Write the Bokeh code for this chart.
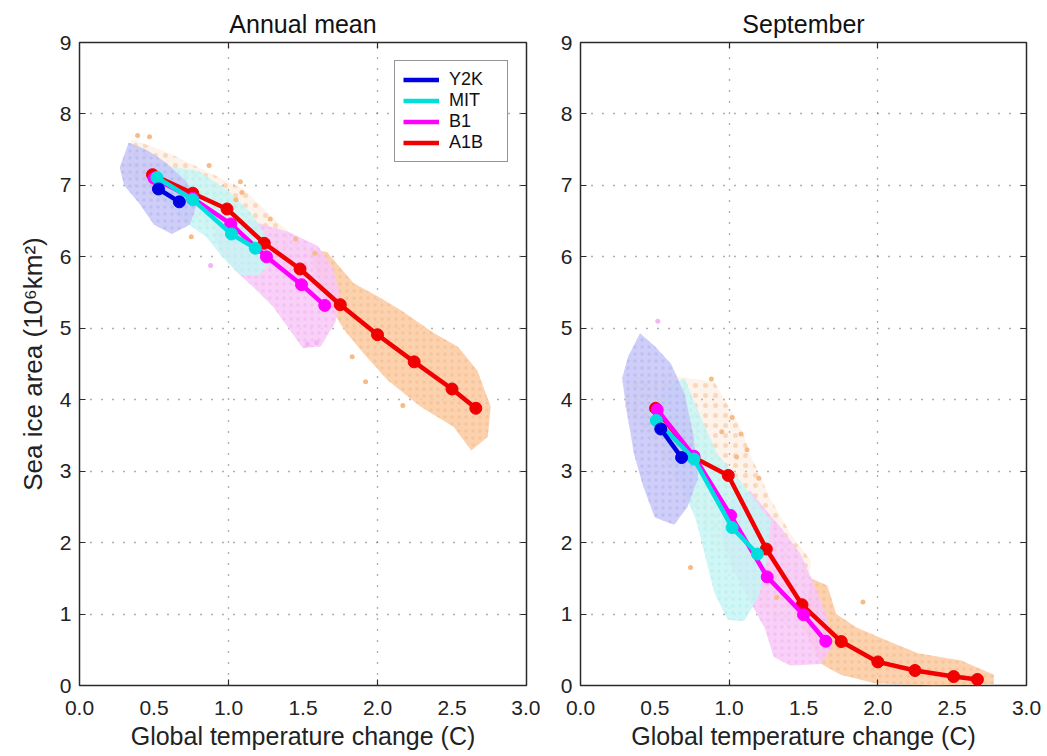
from bokeh.plotting import figure
from bokeh.models import (LinearAxis, FixedTicker, PrintfTickFormatter, Legend,
                          LegendItem, Range1d, Grid)
from bokeh.layouts import row
from bokeh.embed import file_html
from bokeh.resources import INLINE

FONT = "Liberation Sans"
INK = "#2b2b2b"

# ---------------- data ----------------
X_TICKS = [0.0, 0.5, 1.0, 1.5, 2.0, 2.5, 3.0]
Y_TICKS = [0, 1, 2, 3, 4, 5, 6, 7, 8, 9]
X_GRID = [1.0, 2.0]
Y_GRID = [1, 2, 3, 4, 5, 6, 7, 8]

SCENARIOS = ["Y2K", "MIT", "B1", "A1B"]
LINE_COLORS = {"Y2K": "#0000e0", "MIT": "#00dede", "B1": "#ff00ff", "A1B": "#f00000"}
CLOUD_COLORS = {"Y2K": "#c6c6f7", "MIT": "#c8f5f5", "B1": "#f7c8f7", "A1B": "#fac9a0"}
DOT_COLORS = {"Y2K": "#b4b4f3", "MIT": "#b2f0f0", "B1": "#f3b5f3", "A1B": "#f7bb88"}

# Annual mean: ensemble-mean curves (temperature change, sea-ice area)
ANN_Y2K_T = [0.53, 0.67]
ANN_Y2K_A = [6.95, 6.77]
ANN_MIT_T = [0.52, 0.76, 1.02, 1.18]
ANN_MIT_A = [7.11, 6.80, 6.32, 6.12]
ANN_B1_T = [0.50, 0.76, 1.015, 1.255, 1.49, 1.646]
ANN_B1_A = [7.10, 6.82, 6.46, 6.00, 5.61, 5.32]
ANN_A1B_T = [0.49, 0.76, 0.99, 1.24, 1.48, 1.75, 2.00, 2.246, 2.50, 2.66]
ANN_A1B_A = [7.15, 6.89, 6.67, 6.19, 5.83, 5.33, 4.91, 4.53, 4.15, 3.88]

# September
SEP_Y2K_T = [0.54, 0.68]
SEP_Y2K_A = [3.59, 3.19]
SEP_MIT_T = [0.51, 0.763, 1.02, 1.19]
SEP_MIT_A = [3.71, 3.17, 2.21, 1.84]
SEP_B1_T = [0.516, 0.763, 1.01, 1.256, 1.50, 1.65]
SEP_B1_A = [3.86, 3.21, 2.38, 1.52, 0.99, 0.62]
SEP_A1B_T = [0.505, 0.763, 0.994, 1.25, 1.49, 1.754, 2.00, 2.25, 2.51, 2.67]
SEP_A1B_A = [3.88, 3.19, 2.94, 1.91, 1.13, 0.615, 0.33, 0.21, 0.125, 0.085]

# Ensemble clouds: outline of each dense scatter cloud (temperature, area)
ANN_Y2K_CLOUD_T = [0.33, 0.45, 0.58, 0.72, 0.79, 0.74, 0.62, 0.50, 0.40, 0.30, 0.27]
ANN_Y2K_CLOUD_A = [7.60, 7.50, 7.32, 7.05, 6.75, 6.45, 6.32, 6.45, 6.75, 7.00, 7.25]
ANN_MIT_CLOUD_T = [0.50, 0.80, 1.00, 1.15, 1.27, 1.28, 1.20, 1.08, 0.95, 0.85, 0.70, 0.55, 0.45]
ANN_MIT_CLOUD_A = [7.30, 7.20, 6.92, 6.62, 6.22, 5.90, 5.74, 5.74, 6.02, 6.28, 6.50, 6.80, 7.00]
ANN_B1_CLOUD_T = [0.95, 1.15, 1.40, 1.60, 1.70, 1.75, 1.72, 1.62, 1.50, 1.42, 1.30, 1.18, 1.05, 0.95, 0.90]
ANN_B1_CLOUD_A = [6.55, 6.50, 6.35, 6.15, 5.85, 5.45, 5.10, 4.75, 4.72, 4.95, 5.30, 5.55, 5.80, 6.05, 6.30]
ANN_A1B_CLOUD_T = [1.55, 1.66, 1.84, 2.00, 2.16, 2.38, 2.54, 2.67, 2.76, 2.74, 2.63, 2.51, 2.29, 2.07,
                   1.91, 1.78, 1.68, 1.60]
ANN_A1B_CLOUD_A = [6.10, 6.07, 5.63, 5.45, 5.25, 4.93, 4.74, 4.41, 3.90, 3.48, 3.29, 3.62, 3.90, 4.27,
                   4.64, 4.97, 5.30, 5.70]
# sparse early part of the A1B ensemble (mostly hidden behind the other clouds)
ANN_A1B_SPARSE_T = [0.35, 0.60, 0.90, 1.10, 1.35, 1.55, 1.60, 1.30, 1.05, 0.80, 0.55, 0.30]
ANN_A1B_SPARSE_A = [7.65, 7.45, 7.15, 6.95, 6.45, 6.10, 5.70, 5.80, 6.20, 6.50, 6.80, 7.15]

SEP_Y2K_CLOUD_T = [0.40, 0.50, 0.61, 0.70, 0.76, 0.79, 0.72, 0.63, 0.50, 0.42, 0.36, 0.31, 0.28, 0.32]
SEP_Y2K_CLOUD_A = [4.93, 4.75, 4.50, 4.08, 3.50, 2.90, 2.50, 2.25, 2.35, 2.80, 3.24, 3.85, 4.30, 4.60]
SEP_MIT_CLOUD_T = [0.55, 0.70, 0.80, 0.92, 1.11, 1.28, 1.26, 1.20, 1.10, 0.99, 0.90, 0.84, 0.78, 0.70, 0.60, 0.50]
SEP_MIT_CLOUD_A = [4.15, 4.30, 3.80, 3.24, 2.77, 2.31, 1.80, 1.25, 0.90, 0.92, 1.30, 1.80, 2.30, 2.70, 3.20, 3.70]
SEP_B1_CLOUD_T = [0.95, 1.14, 1.35, 1.48, 1.57, 1.66, 1.69, 1.62, 1.41, 1.30, 1.24, 1.12, 1.02, 0.95]
SEP_B1_CLOUD_A = [2.50, 2.73, 2.20, 1.84, 1.42, 0.96, 0.54, 0.30, 0.28, 0.40, 0.80, 1.25, 1.65, 2.10]
SEP_A1B_CLOUD_T = [1.55, 1.66, 1.72, 1.86, 2.06, 2.27, 2.56, 2.78, 2.78, 2.38, 1.98, 1.75, 1.62, 1.50]
SEP_A1B_CLOUD_A = [1.50, 1.40, 1.00, 0.81, 0.63, 0.45, 0.35, 0.15, 0.02, 0.00, 0.03, 0.15, 0.30, 0.80]
SEP_A1B_SPARSE_T = [0.32, 0.55, 0.90, 1.08, 1.15, 1.28, 1.42, 1.55, 1.50, 1.30, 1.10, 0.90, 0.75, 0.60, 0.45, 0.30]
SEP_A1B_SPARSE_A = [4.30, 4.35, 4.25, 3.60, 3.20, 2.60, 2.10, 1.75, 0.80, 0.90, 1.40, 2.00, 2.50, 3.00, 3.50, 3.90]

# a few isolated ensemble members outside the dense clouds
ANN_A1B_OUT_T = [0.39, 0.47, 0.87, 1.08, 1.09, 1.05, 0.75, 1.28, 1.92, 2.17, 1.83, 1.45, 1.58]
ANN_A1B_OUT_A = [7.70, 7.68, 7.28, 7.05, 6.90, 6.80, 6.28, 6.53, 4.25, 3.92, 4.60, 6.25, 6.05]
ANN_B1_OUT_T = [0.88, 1.53, 1.59]
ANN_B1_OUT_A = [5.88, 4.78, 4.80]
SEP_A1B_OUT_T = [0.74, 1.08, 1.32, 1.90, 0.88, 1.12, 1.02, 0.95, 1.05, 1.20]
SEP_A1B_OUT_A = [1.65, 3.52, 1.23, 1.17, 4.29, 3.30, 3.75, 3.55, 3.20, 2.90]
SEP_B1_OUT_T = [0.52]
SEP_B1_OUT_A = [5.10]

ANNUAL = {
    "Y2K": (ANN_Y2K_T, ANN_Y2K_A, ANN_Y2K_CLOUD_T, ANN_Y2K_CLOUD_A),
    "MIT": (ANN_MIT_T, ANN_MIT_A, ANN_MIT_CLOUD_T, ANN_MIT_CLOUD_A),
    "B1": (ANN_B1_T, ANN_B1_A, ANN_B1_CLOUD_T, ANN_B1_CLOUD_A),
    "A1B": (ANN_A1B_T, ANN_A1B_A, ANN_A1B_CLOUD_T, ANN_A1B_CLOUD_A),
}
SEPTEMBER = {
    "Y2K": (SEP_Y2K_T, SEP_Y2K_A, SEP_Y2K_CLOUD_T, SEP_Y2K_CLOUD_A),
    "MIT": (SEP_MIT_T, SEP_MIT_A, SEP_MIT_CLOUD_T, SEP_MIT_CLOUD_A),
    "B1": (SEP_B1_T, SEP_B1_A, SEP_B1_CLOUD_T, SEP_B1_CLOUD_A),
    "A1B": (SEP_A1B_T, SEP_A1B_A, SEP_A1B_CLOUD_T, SEP_A1B_CLOUD_A),
}
ANN_SPARSE = (ANN_A1B_SPARSE_T, ANN_A1B_SPARSE_A)
SEP_SPARSE = (SEP_A1B_SPARSE_T, SEP_A1B_SPARSE_A)
ANN_OUT = [("A1B", ANN_A1B_OUT_T, ANN_A1B_OUT_A), ("B1", ANN_B1_OUT_T, ANN_B1_OUT_A)]
SEP_OUT = [("A1B", SEP_A1B_OUT_T, SEP_A1B_OUT_A), ("B1", SEP_B1_OUT_T, SEP_B1_OUT_A)]


def tick_only_axis(ticks):
    # tick marks only (minor ticks), no labels
    return LinearAxis(ticker=FixedTicker(ticks=[], minor_ticks=ticks),
                      minor_tick_in=6, minor_tick_out=0, minor_tick_line_color=INK,
                      minor_tick_line_width=1.2, major_tick_line_color=None,
                      axis_line_color=None, major_label_standoff=0)


def make_panel(title, data, sparse, outliers, frame_w, border_l, border_r, ylabel, with_legend):
    p = figure(frame_width=frame_w, frame_height=643, x_range=Range1d(0, 3), y_range=Range1d(0, 9),
               output_backend="svg", toolbar_location=None, x_axis_location=None,
               y_axis_location=None, min_border_left=border_l, min_border_right=border_r,
               min_border_top=42, min_border_bottom=71, title=title, background_fill_color="white",
               border_fill_color="white")
    p.title.align = "center"
    p.title.text_font = FONT
    p.title.text_font_size = "25px"
    p.title.text_font_style = "normal"
    p.title.text_color = "#111111"
    p.title.standoff = 10
    p.outline_line_color = INK
    p.outline_line_width = 1.5
    p.grid.visible = False

    for dim, ticks in ((0, X_GRID), (1, Y_GRID)):
        p.add_layout(Grid(dimension=dim, ticker=FixedTicker(ticks=ticks), grid_line_color="#606060",
                          grid_line_dash="1 10", grid_line_width=1.3))

    xlab = LinearAxis(ticker=FixedTicker(ticks=X_TICKS, minor_ticks=X_GRID),
                      formatter=PrintfTickFormatter(format="%.1f"),
                      axis_line_color=None, major_tick_line_color=None,
                      minor_tick_in=6, minor_tick_out=0, minor_tick_line_color=INK,
                      minor_tick_line_width=1.2,
                      major_label_text_font=FONT, major_label_text_font_size="21px",
                      major_label_text_color="#222222", major_label_standoff=9,
                      axis_label="Global temperature change (C)", axis_label_text_font=FONT,
                      axis_label_text_font_size="25px", axis_label_text_font_style="normal",
                      axis_label_text_color="#222222", axis_label_standoff=4)
    p.add_layout(xlab, "below")
    p.add_layout(tick_only_axis(X_GRID), "above")

    ylab = LinearAxis(ticker=FixedTicker(ticks=Y_TICKS), axis_line_color=None,
                      major_tick_in=6, major_tick_out=0, major_tick_line_color=INK,
                      minor_tick_line_color=None, major_label_text_font=FONT,
                      major_label_text_font_size="21px", major_label_text_color="#222222",
                      major_label_standoff=8)
    if ylabel:
        ylab.axis_label = ylabel
        ylab.axis_label_text_font = FONT
        ylab.axis_label_text_font_size = "26px"
        ylab.axis_label_text_font_style = "normal"
        ylab.axis_label_text_color = "#222222"
        ylab.axis_label_standoff = 9
    p.add_layout(ylab, "left")
    p.add_layout(tick_only_axis(Y_GRID), "right")

    # clouds (A1B at the back); dotted hatch gives the scatter texture
    p.patch(sparse[0], sparse[1], fill_color=CLOUD_COLORS["A1B"], fill_alpha=0.22, line_color=None,
            hatch_pattern="dot", hatch_color=DOT_COLORS["A1B"], hatch_scale=10, hatch_weight=3,
            hatch_alpha=0.5)
    for key in ["A1B", "B1", "MIT", "Y2K"]:
        _, _, ct, ca = data[key]
        p.patch(ct, ca, fill_color=CLOUD_COLORS[key], fill_alpha=0.85, line_color=None,
                hatch_pattern="dot", hatch_color=DOT_COLORS[key], hatch_scale=7, hatch_weight=3,
                hatch_alpha=0.6)
    for key, ot, oa in outliers:
        p.scatter(ot, oa, size=5, fill_color=DOT_COLORS[key], line_color=None)

    items = {}
    for key in ["A1B", "B1", "MIT", "Y2K"]:
        t, a, _, _ = data[key]
        r = p.line(t, a, line_color=LINE_COLORS[key], line_width=4.5)
        p.scatter(t, a, size=12, fill_color=LINE_COLORS[key], line_color=LINE_COLORS[key])
        items[key] = r

    if with_legend:
        legend = Legend(items=[LegendItem(label=k, renderers=[items[k]]) for k in SCENARIOS],
                        location="top_right", margin=18, padding=8, spacing=0,
                        glyph_width=36, glyph_height=21, label_height=21, label_width=50,
                        label_standoff=10, label_text_font=FONT, label_text_font_size="18px",
                        label_text_color="#111111", border_line_color=INK, border_line_width=1.2,
                        background_fill_alpha=1.0)
        p.add_layout(legend)
    return p


left = make_panel("Annual mean", ANNUAL, ANN_SPARSE, ANN_OUT, 447, 79, 14,
                  "Sea ice area (10\u2076km\u00b2)", True)
right = make_panel("September", SEPTEMBER, SEP_SPARSE, SEP_OUT, 446, 40, 21, None, False)

layout = row(left, right)
open("out.html", "w").write(file_html(layout, INLINE))
